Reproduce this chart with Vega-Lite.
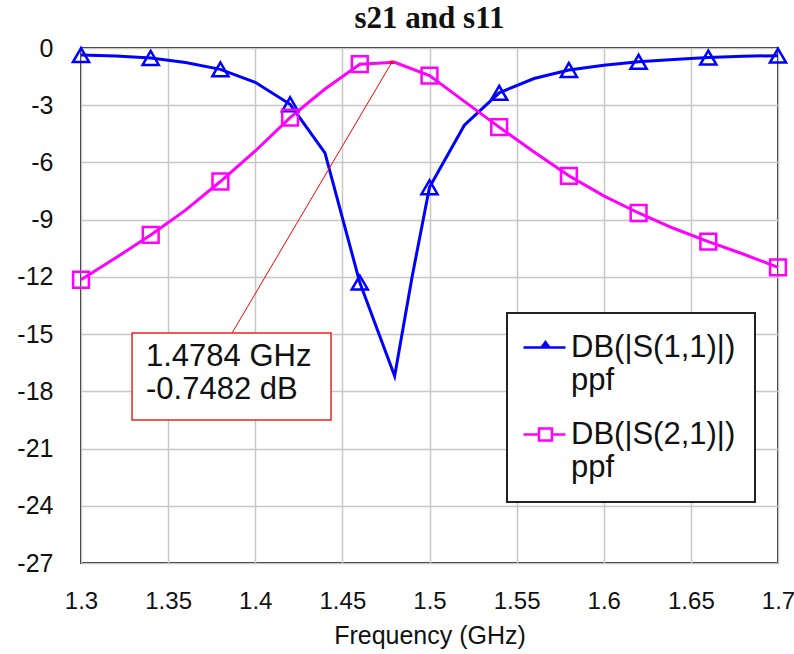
{
  "$schema": "https://vega.github.io/schema/vega-lite/v6.json",
  "width": 697,
  "height": 515,
  "autosize": {"type": "none"},
  "padding": {"left": 81, "top": 48, "right": 16, "bottom": 91},
  "background": "white",
  "title": {
    "text": "s21 and s11",
    "font": "Liberation Serif",
    "fontSize": 31,
    "fontWeight": "bold",
    "color": "#111",
    "anchor": "middle",
    "frame": "group",
    "baseline": "alphabetic",
    "offset": 20,
    "dy": 43
  },
  "config": {
    "view": {"stroke": "#222", "strokeWidth": 2},
    "axis": {
      "gridColor": "#c8c8c8",
      "gridWidth": 1.5,
      "domain": false,
      "ticks": false,
      "labelFlush": false,
      "labelFont": "Liberation Sans",
      "labelFontSize": 25,
      "labelColor": "#111",
      "titleFont": "Liberation Sans",
      "titleFontSize": 25,
      "titleFontWeight": "normal",
      "titleColor": "#111"
    }
  },
  "datasets": {
    "curves": [
      {"f": 1.30, "db": -0.37, "series": "DB(|S(1,1)|)"},
      {"f": 1.32, "db": -0.42, "series": "DB(|S(1,1)|)"},
      {"f": 1.34, "db": -0.52, "series": "DB(|S(1,1)|)"},
      {"f": 1.36, "db": -0.76, "series": "DB(|S(1,1)|)"},
      {"f": 1.38, "db": -1.12, "series": "DB(|S(1,1)|)"},
      {"f": 1.40, "db": -1.8, "series": "DB(|S(1,1)|)"},
      {"f": 1.42, "db": -2.95, "series": "DB(|S(1,1)|)"},
      {"f": 1.44, "db": -5.5, "series": "DB(|S(1,1)|)"},
      {"f": 1.46, "db": -12.3, "series": "DB(|S(1,1)|)"},
      {"f": 1.48, "db": -17.2, "series": "DB(|S(1,1)|)"},
      {"f": 1.49, "db": -12.0, "series": "DB(|S(1,1)|)"},
      {"f": 1.50, "db": -7.3, "series": "DB(|S(1,1)|)"},
      {"f": 1.52, "db": -4.05, "series": "DB(|S(1,1)|)"},
      {"f": 1.54, "db": -2.35, "series": "DB(|S(1,1)|)"},
      {"f": 1.56, "db": -1.6, "series": "DB(|S(1,1)|)"},
      {"f": 1.58, "db": -1.15, "series": "DB(|S(1,1)|)"},
      {"f": 1.60, "db": -0.9, "series": "DB(|S(1,1)|)"},
      {"f": 1.62, "db": -0.72, "series": "DB(|S(1,1)|)"},
      {"f": 1.64, "db": -0.6, "series": "DB(|S(1,1)|)"},
      {"f": 1.66, "db": -0.5, "series": "DB(|S(1,1)|)"},
      {"f": 1.68, "db": -0.43, "series": "DB(|S(1,1)|)"},
      {"f": 1.70, "db": -0.4, "series": "DB(|S(1,1)|)"},
      {"f": 1.30, "db": -12.15, "series": "DB(|S(2,1)|)"},
      {"f": 1.32, "db": -11.0, "series": "DB(|S(2,1)|)"},
      {"f": 1.34, "db": -9.8, "series": "DB(|S(2,1)|)"},
      {"f": 1.36, "db": -8.5, "series": "DB(|S(2,1)|)"},
      {"f": 1.38, "db": -7.0, "series": "DB(|S(2,1)|)"},
      {"f": 1.40, "db": -5.4, "series": "DB(|S(2,1)|)"},
      {"f": 1.42, "db": -3.65, "series": "DB(|S(2,1)|)"},
      {"f": 1.44, "db": -2.15, "series": "DB(|S(2,1)|)"},
      {"f": 1.46, "db": -0.85, "series": "DB(|S(2,1)|)"},
      {"f": 1.48, "db": -0.75, "series": "DB(|S(2,1)|)"},
      {"f": 1.50, "db": -1.45, "series": "DB(|S(2,1)|)"},
      {"f": 1.52, "db": -2.8, "series": "DB(|S(2,1)|)"},
      {"f": 1.54, "db": -4.15, "series": "DB(|S(2,1)|)"},
      {"f": 1.56, "db": -5.45, "series": "DB(|S(2,1)|)"},
      {"f": 1.58, "db": -6.7, "series": "DB(|S(2,1)|)"},
      {"f": 1.60, "db": -7.75, "series": "DB(|S(2,1)|)"},
      {"f": 1.62, "db": -8.65, "series": "DB(|S(2,1)|)"},
      {"f": 1.64, "db": -9.45, "series": "DB(|S(2,1)|)"},
      {"f": 1.66, "db": -10.15, "series": "DB(|S(2,1)|)"},
      {"f": 1.68, "db": -10.8, "series": "DB(|S(2,1)|)"},
      {"f": 1.70, "db": -11.5, "series": "DB(|S(2,1)|)"}
    ],
    "markerLine": [
      {"f": 1.3867, "db": -14.94, "f2": 1.4784, "db2": -0.7482}
    ],
    "markerBox": [
      {"f": 1.3293, "db": -14.94, "f2": 1.4435, "db2": -19.5}
    ],
    "markerText": [
      {"f": 1.3373, "db": -16.2, "label": "1.4784 GHz"},
      {"f": 1.3373, "db": -17.95, "label": "-0.7482 dB"}
    ],
    "peak": [
      {"f": 1.4784, "db": -0.7482}
    ]
  },
  "layer": [
    {
      "data": {"name": "curves"},
      "mark": {"type": "line", "strokeWidth": 3, "interpolate": "linear"},
      "encoding": {
        "x": {
          "field": "f", "type": "quantitative",
          "scale": {"domain": [1.3, 1.7], "nice": false, "zero": false},
          "axis": {
            "values": [1.3, 1.35, 1.4, 1.45, 1.5, 1.55, 1.6, 1.65, 1.7],
            "labelExpr": "toString(datum.value)",
            "title": "Frequency (GHz)",
            "labelPadding": 26,
            "titlePadding": 10,
            "labelFontSize": 24
          }
        },
        "y": {
          "field": "db", "type": "quantitative",
          "scale": {"domain": [-27, 0], "nice": false, "zero": false},
          "axis": {
            "values": [0, -3, -6, -9, -12, -15, -18, -21, -24, -27],
            "labelExpr": "toString(datum.value)",
            "title": null,
            "labelPadding": 28
          }
        },
        "color": {
          "field": "series", "type": "nominal",
          "scale": {"domain": ["DB(|S(1,1)|)", "DB(|S(2,1)|)"], "range": ["#0000ff", "#ff00ff"]},
          "legend": {
            "orient": "none",
            "legendX": 426,
            "legendY": 265,
            "title": null,
            "fillColor": "white",
            "strokeColor": "#222",
            "padding": 19,
            "labelFont": "Liberation Sans",
            "labelFontSize": 31,
            "labelColor": "#111",
            "labelLimit": 400,
            "labelOffset": 14,
            "labelExpr": "[datum.label, 'ppf']",
            "symbolSize": 576,
            "symbolType": "M-1.75,0H1.75",
            "rowPadding": 22,
            "encode": {
              "legend": {
                "update": {"strokeWidth": {"value": 2}}
              },
              "symbols": {
                "update": {
                  "shape": {"signal": "datum.value == 'DB(|S(1,1)|)' ? 'M-1.5,0H2M0,0L0.33,-0.45L0.66,0Z' : 'M-1.5,0H-0.21M0.87,0H2M-0.21,-0.5H0.87V0.5H-0.21Z'"},
                  "fill": {"signal": "datum.value == 'DB(|S(1,1)|)' ? '#0000ff' : 'transparent'"},
                  "strokeWidth": {"value": 2.5},
                  "opacity": {"value": 1}
                }
              },
              "labels": {
                "update": {
                  "lineHeight": {"value": 33}
                }
              }
            }
          }
        }
      }
    },
    {
      "data": {"name": "curves"},
      "transform": [{"filter": "round(datum.f * 100) % 4 == 2 && datum.series == 'DB(|S(1,1)|)'"}],
      "mark": {"type": "point", "shape": "triangle-up", "filled": false, "color": "#0000ff", "strokeWidth": 2.5, "opacity": 1, "size": 260},
      "encoding": {
        "x": {"field": "f", "type": "quantitative"},
        "y": {"field": "db", "type": "quantitative"}
      }
    },
    {
      "data": {"name": "curves"},
      "transform": [{"filter": "round(datum.f * 100) % 4 == 2 && datum.series == 'DB(|S(2,1)|)'"}],
      "mark": {"type": "point", "shape": "square", "filled": false, "color": "#ff00ff", "strokeWidth": 2.5, "opacity": 1, "size": 250},
      "encoding": {
        "x": {"field": "f", "type": "quantitative"},
        "y": {"field": "db", "type": "quantitative"}
      }
    },
    {
      "data": {"name": "markerLine"},
      "mark": {"type": "rule", "color": "#ff0000", "strokeWidth": 1},
      "encoding": {
        "x": {"field": "f", "type": "quantitative"},
        "y": {"field": "db", "type": "quantitative"},
        "x2": {"field": "f2"},
        "y2": {"field": "db2"}
      }
    },
    {
      "data": {"name": "peak"},
      "mark": {"type": "point", "filled": true, "color": "#ff0000", "size": 14, "shape": "square"},
      "encoding": {
        "x": {"field": "f", "type": "quantitative"},
        "y": {"field": "db", "type": "quantitative"}
      }
    },
    {
      "data": {"name": "markerBox"},
      "mark": {"type": "rect", "fill": "white", "stroke": "#ee2222", "strokeWidth": 1.5},
      "encoding": {
        "x": {"field": "f", "type": "quantitative"},
        "y": {"field": "db", "type": "quantitative"},
        "x2": {"field": "f2"},
        "y2": {"field": "db2"}
      }
    },
    {
      "data": {"name": "markerText"},
      "mark": {"type": "text", "align": "left", "baseline": "middle", "font": "Liberation Sans", "fontSize": 31, "color": "#111"},
      "encoding": {
        "x": {"field": "f", "type": "quantitative"},
        "y": {"field": "db", "type": "quantitative"},
        "text": {"field": "label"}
      }
    }
  ]
}
